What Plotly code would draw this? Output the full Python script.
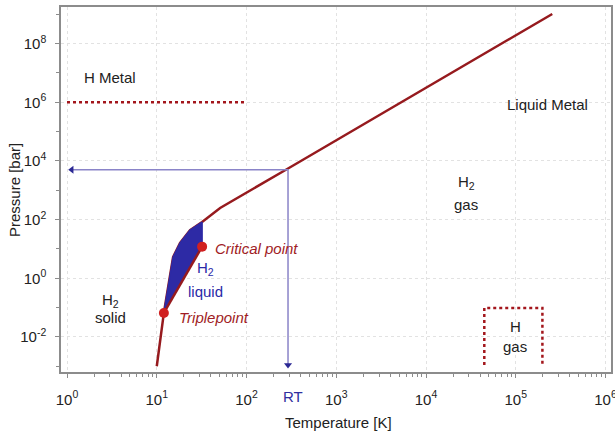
import numpy as np
import plotly.graph_objects as go

# ---- data ----
# main phase boundary (sublimation + melting line), T [K], P [bar]
curve_T = [10, 12, 15.2, 18.2, 23.5, 32, 50.8, 284, 255000]
curve_P = [1e-3, 0.066, 5.3, 16, 44, 83, 250, 5340, 1.03e9]

# liquid region: melting edge (triple -> top) then critical point
liquid_T = [12, 15.2, 18.2, 23.5, 32, 32]
liquid_P = [0.066, 5.3, 16, 44, 83, 12]

triple_T, triple_P = 12, 0.066
crit_T, crit_P = 32, 12

# H metal boundary (dotted)
hmetal_T = [1, 100]
hmetal_P = [1e6, 1e6]

# H gas box (dotted)
hgas_T = [44600, 44600, 198000, 198000]
hgas_P = [1.1e-3, 0.097, 0.097, 1.1e-3]

# room temperature guide
RT_T, RT_P = 290, 5000
arrow_left_T = 1.128
arrow_bottom_P = 1.1e-3

x_tickvals = [1, 10, 100, 1e3, 1e4, 1e5, 1e6]
x_ticktext = ["10<sup>0</sup>", "10<sup>1</sup>", "10<sup>2</sup>", "10<sup>3</sup>",
              "10<sup>4</sup>", "10<sup>5</sup>", "10<sup>6</sup>"]
y_tickvals = [1e-2, 1, 1e2, 1e4, 1e6, 1e8]
y_ticktext = ["10<sup>-2</sup>", "10<sup>0</sup>", "10<sup>2</sup>", "10<sup>4</sup>",
              "10<sup>6</sup>", "10<sup>8</sup>"]
x_minor = [k * 10 ** d for d in range(0, 6) for k in range(2, 10)]
y_minor = [1e-3, 1e-1, 1e1, 1e3, 1e5, 1e7, 1e9]

RED = "#961a1e"
DOT_RED = "#a3161c"
BLUE_FILL = "#2d2aa5"
ARROW_LINE = "#8a84c8"
ARROW_HEAD = "#2b2894"
FONT = "Liberation Sans, Arial, sans-serif"
TXT = "#222222"

fig = go.Figure()

fig.add_trace(go.Scatter(x=curve_T, y=curve_P, mode="lines",
                         line=dict(color=RED, width=2.5), hoverinfo="skip"))
fig.add_trace(go.Scatter(x=liquid_T, y=liquid_P, mode="lines", fill="toself",
                         fillcolor=BLUE_FILL, line=dict(color=BLUE_FILL, width=1.5),
                         hoverinfo="skip"))
fig.add_trace(go.Scatter(x=[triple_T, crit_T], y=[triple_P, crit_P], mode="lines",
                         line=dict(color=RED, width=2.5), hoverinfo="skip"))
fig.add_trace(go.Scatter(x=[triple_T, crit_T], y=[triple_P, crit_P], mode="markers",
                         marker=dict(color="#d02020", size=10), hoverinfo="skip"))
fig.add_trace(go.Scatter(x=hmetal_T, y=hmetal_P, mode="lines",
                         line=dict(color=DOT_RED, width=2.5, dash="dot"), hoverinfo="skip"))
fig.add_trace(go.Scatter(x=hgas_T, y=hgas_P, mode="lines",
                         line=dict(color=DOT_RED, width=2.5, dash="dot"), hoverinfo="skip"))
# RT guide lines
fig.add_trace(go.Scatter(x=[arrow_left_T, RT_T, RT_T], y=[RT_P, RT_P, arrow_bottom_P],
                         mode="lines", line=dict(color=ARROW_LINE, width=1.5),
                         hoverinfo="skip"))
fig.add_trace(go.Scatter(x=[arrow_left_T], y=[RT_P], mode="markers",
                         marker=dict(symbol="triangle-left", size=7, color=ARROW_HEAD),
                         hoverinfo="skip"))
fig.add_trace(go.Scatter(x=[RT_T], y=[arrow_bottom_P], mode="markers",
                         marker=dict(symbol="triangle-down", size=7, color=ARROW_HEAD),
                         hoverinfo="skip"))

def ann(text, x, y, color=TXT, italic=False, xanchor="center", size=15,
        xref="x", yref="y", angle=0):
    fig.add_annotation(text=text, x=x, y=y, xref=xref, yref=yref, showarrow=False,
                       xanchor=xanchor, yanchor="middle", textangle=angle,
                       font=dict(family=FONT, size=size, color=color,
                                 style="italic" if italic else "normal"))

ann("H Metal", 0.479, 6.83)
ann("Liquid Metal", 5.35, 5.91)
ann("H<sub>2</sub>", 4.448, 3.25)
ann("gas", 4.448, 2.50)
ann("Critical point", 1.628, 1.03, color="#a01c24", italic=True, xanchor="left")
ann("H<sub>2</sub>", 1.538, 0.35, color="#2a2aa8")
ann("liquid", 1.538, -0.467, color="#2a2aa8")
ann("H<sub>2</sub>", 0.479, -0.74)
ann("solid", 0.479, -1.35)
ann("Triplepoint", 1.226, -1.32, color="#a01c24", italic=True, xanchor="left")
ann("H", 4.995, -1.66)
ann("gas", 4.995, -2.34)
ann("RT", 2.52, -0.068, color="#2f2f9f", yref="paper")
# axis titles
ann("Temperature [K]", 0.504, -0.137, xref="paper", yref="paper")
ann("Pressure [bar]", -0.0855, 0.4986, xref="paper", yref="paper", angle=-90)

axis_common = dict(
    type="log", showline=True, linecolor="#8c8c8c", linewidth=1.5, mirror=True,
    ticks="outside", ticklen=4, tickcolor="#8c8c8c", tickwidth=1,
    showgrid=True, gridcolor="#e2e2e2", griddash="dot", gridwidth=1,
    zeroline=False, automargin=False, ticklabeloverflow="allow",
    tickfont=dict(family=FONT, size=15, color=TXT),
)

fig.update_layout(
    width=615, height=432,
    margin=dict(l=61, r=4, t=7, b=60),
    paper_bgcolor="white", plot_bgcolor="white",
    showlegend=False,
    xaxis=dict(axis_common, range=[-0.067, 6.061], tickmode="array",
               tickvals=x_tickvals, ticktext=x_ticktext, ticklabelstandoff=9,
               minor=dict(tickmode="array", tickvals=x_minor, ticks="outside",
                          ticklen=3, tickcolor="#8c8c8c", showgrid=False)),
    yaxis=dict(axis_common, range=[-3.195, 9.25], tickmode="array",
               tickvals=y_tickvals, ticktext=y_ticktext, ticklabelstandoff=6,
               minor=dict(tickmode="array", tickvals=y_minor, ticks="outside",
                          ticklen=3, tickcolor="#8c8c8c", showgrid=False)),
)

fig.write_html("out.html", config={"displayModeBar": False},
               post_script="document.body.style.margin='0px';")
